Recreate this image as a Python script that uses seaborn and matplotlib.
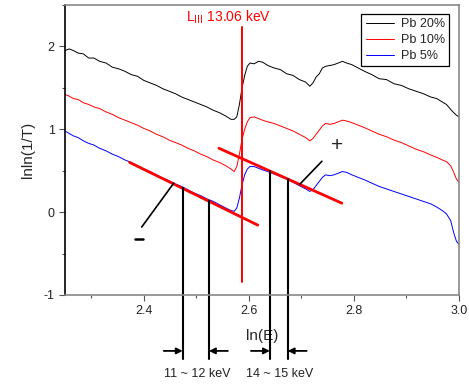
import numpy as np
import pandas as pd
import matplotlib
matplotlib.use("Agg")
import matplotlib.pyplot as plt
import seaborn as sns
from matplotlib.ticker import MultipleLocator

# ===============================
# DATA
# ===============================
ln_e = [2.250, 2.258, 2.266, 2.275, 2.285, 2.295, 2.305, 2.316, 2.328, 2.340,
        2.352, 2.364, 2.376, 2.388, 2.400, 2.412, 2.424, 2.436, 2.448, 2.460,
        2.472, 2.484, 2.496, 2.508, 2.520, 2.532, 2.544, 2.556, 2.566, 2.572,
        2.577, 2.582, 2.587, 2.592, 2.597, 2.602, 2.610, 2.618, 2.626, 2.636,
        2.648, 2.660, 2.672, 2.684, 2.696, 2.708, 2.716, 2.722, 2.728, 2.734,
        2.740, 2.746, 2.754, 2.762, 2.770, 2.778, 2.786, 2.796, 2.808, 2.820,
        2.834, 2.848, 2.862, 2.876, 2.890, 2.904, 2.918, 2.932, 2.946, 2.958,
        2.968, 2.976, 2.984, 2.990, 2.995, 3.000]

pb20 = [1.95, 1.97, 1.95, 1.92, 1.91, 1.86, 1.86, 1.82, 1.80, 1.75,
        1.73, 1.70, 1.66, 1.64, 1.59, 1.56, 1.53, 1.49, 1.46, 1.43,
        1.39, 1.36, 1.33, 1.30, 1.27, 1.23, 1.20, 1.16, 1.12, 1.12,
        1.15, 1.30, 1.50, 1.65, 1.76, 1.80, 1.79, 1.82, 1.81, 1.77,
        1.74, 1.72, 1.67, 1.65, 1.60, 1.57, 1.52, 1.56, 1.63, 1.67,
        1.74, 1.76, 1.77, 1.78, 1.80, 1.82, 1.80, 1.78, 1.74, 1.70,
        1.66, 1.61, 1.60, 1.55, 1.53, 1.49, 1.46, 1.43, 1.39, 1.37,
        1.33, 1.30, 1.24, 1.20, 1.17, 1.15]

pb10 = [1.42, 1.40, 1.37, 1.36, 1.32, 1.30, 1.27, 1.25, 1.21, 1.18,
        1.14, 1.11, 1.08, 1.05, 1.01, 0.98, 0.94, 0.91, 0.87, 0.84,
        0.81, 0.77, 0.74, 0.70, 0.67, 0.63, 0.60, 0.56, 0.52, 0.49,
        0.55, 0.70, 0.88, 1.00, 1.09, 1.14, 1.15, 1.13, 1.11, 1.09,
        1.07, 1.04, 1.01, 0.98, 0.94, 0.90, 0.86, 0.89, 0.94, 0.99,
        1.04, 1.07, 1.06, 1.07, 1.09, 1.11, 1.10, 1.08, 1.05, 1.02,
        0.98, 0.94, 0.91, 0.87, 0.84, 0.80, 0.76, 0.73, 0.69, 0.66,
        0.63, 0.61, 0.56, 0.48, 0.40, 0.36]

pb5 = [0.98, 0.95, 0.92, 0.90, 0.86, 0.83, 0.81, 0.77, 0.74, 0.70,
       0.67, 0.63, 0.60, 0.56, 0.52, 0.49, 0.45, 0.41, 0.38, 0.34,
       0.31, 0.27, 0.23, 0.20, 0.16, 0.13, 0.09, 0.05, 0.02, 0.01,
       0.05, 0.17, 0.33, 0.45, 0.52, 0.55, 0.55, 0.53, 0.51, 0.49,
       0.46, 0.43, 0.40, 0.36, 0.32, 0.28, 0.25, 0.27, 0.32, 0.37,
       0.42, 0.45, 0.44, 0.45, 0.47, 0.49, 0.48, 0.45, 0.42, 0.39,
       0.35, 0.31, 0.28, 0.25, 0.22, 0.19, 0.16, 0.13, 0.10, 0.06,
       0.02, -0.02, -0.10, -0.25, -0.35, -0.39]

series_names = ["Pb 20%", "Pb 10%", "Pb 5%"]
series_colors = ["black", "red", "blue"]

# absorption edge
edge_x = 2.586
edge_label = r"L$_{\rm III}$ 13.06 keV"

# pre-edge / post-edge fit lines
fit_pre_x = [2.373, 2.617]
fit_pre_y = [0.60, -0.157]
fit_post_x = [2.543, 2.777]
fit_post_y = [0.771, 0.108]

# energy windows (ln E)
win_pre = [2.474, 2.524]
win_post = [2.640, 2.674]
win_labels = ["11 ~ 12 keV", "14 ~ 15 keV"]

# ===============================
# PLOT
# ===============================
sns.set_style("ticks")
plt.rcParams["font.family"] = ["Liberation Sans", "DejaVu Sans"]
plt.rcParams["axes.unicode_minus"] = False

fig = plt.figure(figsize=(4.69, 3.85), dpi=100)
ax = fig.add_axes([0.1386, 0.2338, 0.8401, 0.7532])

for ys, name, col in zip([pb20, pb10, pb5], series_names, series_colors):
    sns.lineplot(x=ln_e, y=ys, color=col, linewidth=0.7, label=name, ax=ax)

ax.set_xlim(2.25, 3.0)
ax.set_ylim(-1, 2.5)
ax.xaxis.set_major_locator(MultipleLocator(0.2))
ax.xaxis.set_minor_locator(MultipleLocator(0.1))
ax.yaxis.set_major_locator(MultipleLocator(1))
ax.yaxis.set_minor_locator(MultipleLocator(0.5))
ax.tick_params(which="major", length=4, width=0.8, color="#555555",
               labelsize=9, labelcolor="#222222", direction="out")
ax.tick_params(which="minor", length=2.5, width=0.8, color="#555555", direction="out")

for side in ["top", "right", "bottom"]:
    ax.spines[side].set_color("#888888")
    ax.spines[side].set_linewidth(1.2)
ax.spines["left"].set_color("black")
ax.spines["left"].set_linewidth(1.2)

ax.set_xlabel("ln(E)", fontsize=11, labelpad=8)
ax.set_ylabel("lnln(1/T)", fontsize=11, labelpad=6)

# edge marker
ax.plot([edge_x, edge_x], [-0.84, 2.24], color="red", lw=1.4)
ax.text(2.48, 2.35, edge_label, color="red", fontsize=10, va="center", ha="left")

# fit lines
ax.plot(fit_pre_x, fit_pre_y, color="red", lw=2)
ax.plot(fit_post_x, fit_post_y, color="red", lw=2)

# window lines and arrows
y_bottom = -1.77
y_arrow = -1.675
for xs, fx, fy, lab in [(win_pre, fit_pre_x, fit_pre_y, win_labels[0]),
                        (win_post, fit_post_x, fit_post_y, win_labels[1])]:
    for xv in xs:
        top = np.interp(xv, fx, fy)
        ax.plot([xv, xv], [top, y_bottom], color="black", lw=1.5, clip_on=False)
    ax.annotate("", xy=(xs[0], y_arrow), xytext=(xs[0] - 0.036, y_arrow),
                arrowprops=dict(arrowstyle="-|>", color="black", lw=1.3,
                                mutation_scale=9, shrinkA=0, shrinkB=0),
                annotation_clip=False)
    ax.annotate("", xy=(xs[1], y_arrow), xytext=(xs[1] + 0.036, y_arrow),
                arrowprops=dict(arrowstyle="-|>", color="black", lw=1.3,
                                mutation_scale=9, shrinkA=0, shrinkB=0),
                annotation_clip=False)
    ax.text(np.mean(xs) + 0.002, -1.95, lab, fontsize=9, ha="center", va="center",
            color="#222222")

# sign leaders
ax.plot([2.396, 2.457], [-0.18, 0.35], color="black", lw=1.2)
ax.plot([2.383, 2.399], [-0.33, -0.33], color="black", lw=1.8)
ax.plot([2.697, 2.739], [0.337, 0.614], color="black", lw=1.2)
ax.text(2.768, 0.80, "+", fontsize=15, ha="center", va="center")

leg = ax.legend(loc="upper right", bbox_to_anchor=(0.975, 0.97), fontsize=9,
                frameon=True, fancybox=False, framealpha=1, edgecolor="black",
                handlelength=2.3, labelspacing=0.32, borderpad=0.35,
                handletextpad=0.5, borderaxespad=0.0)
leg.get_frame().set_linewidth(0.9)

plt.savefig("out.png", dpi=100)
